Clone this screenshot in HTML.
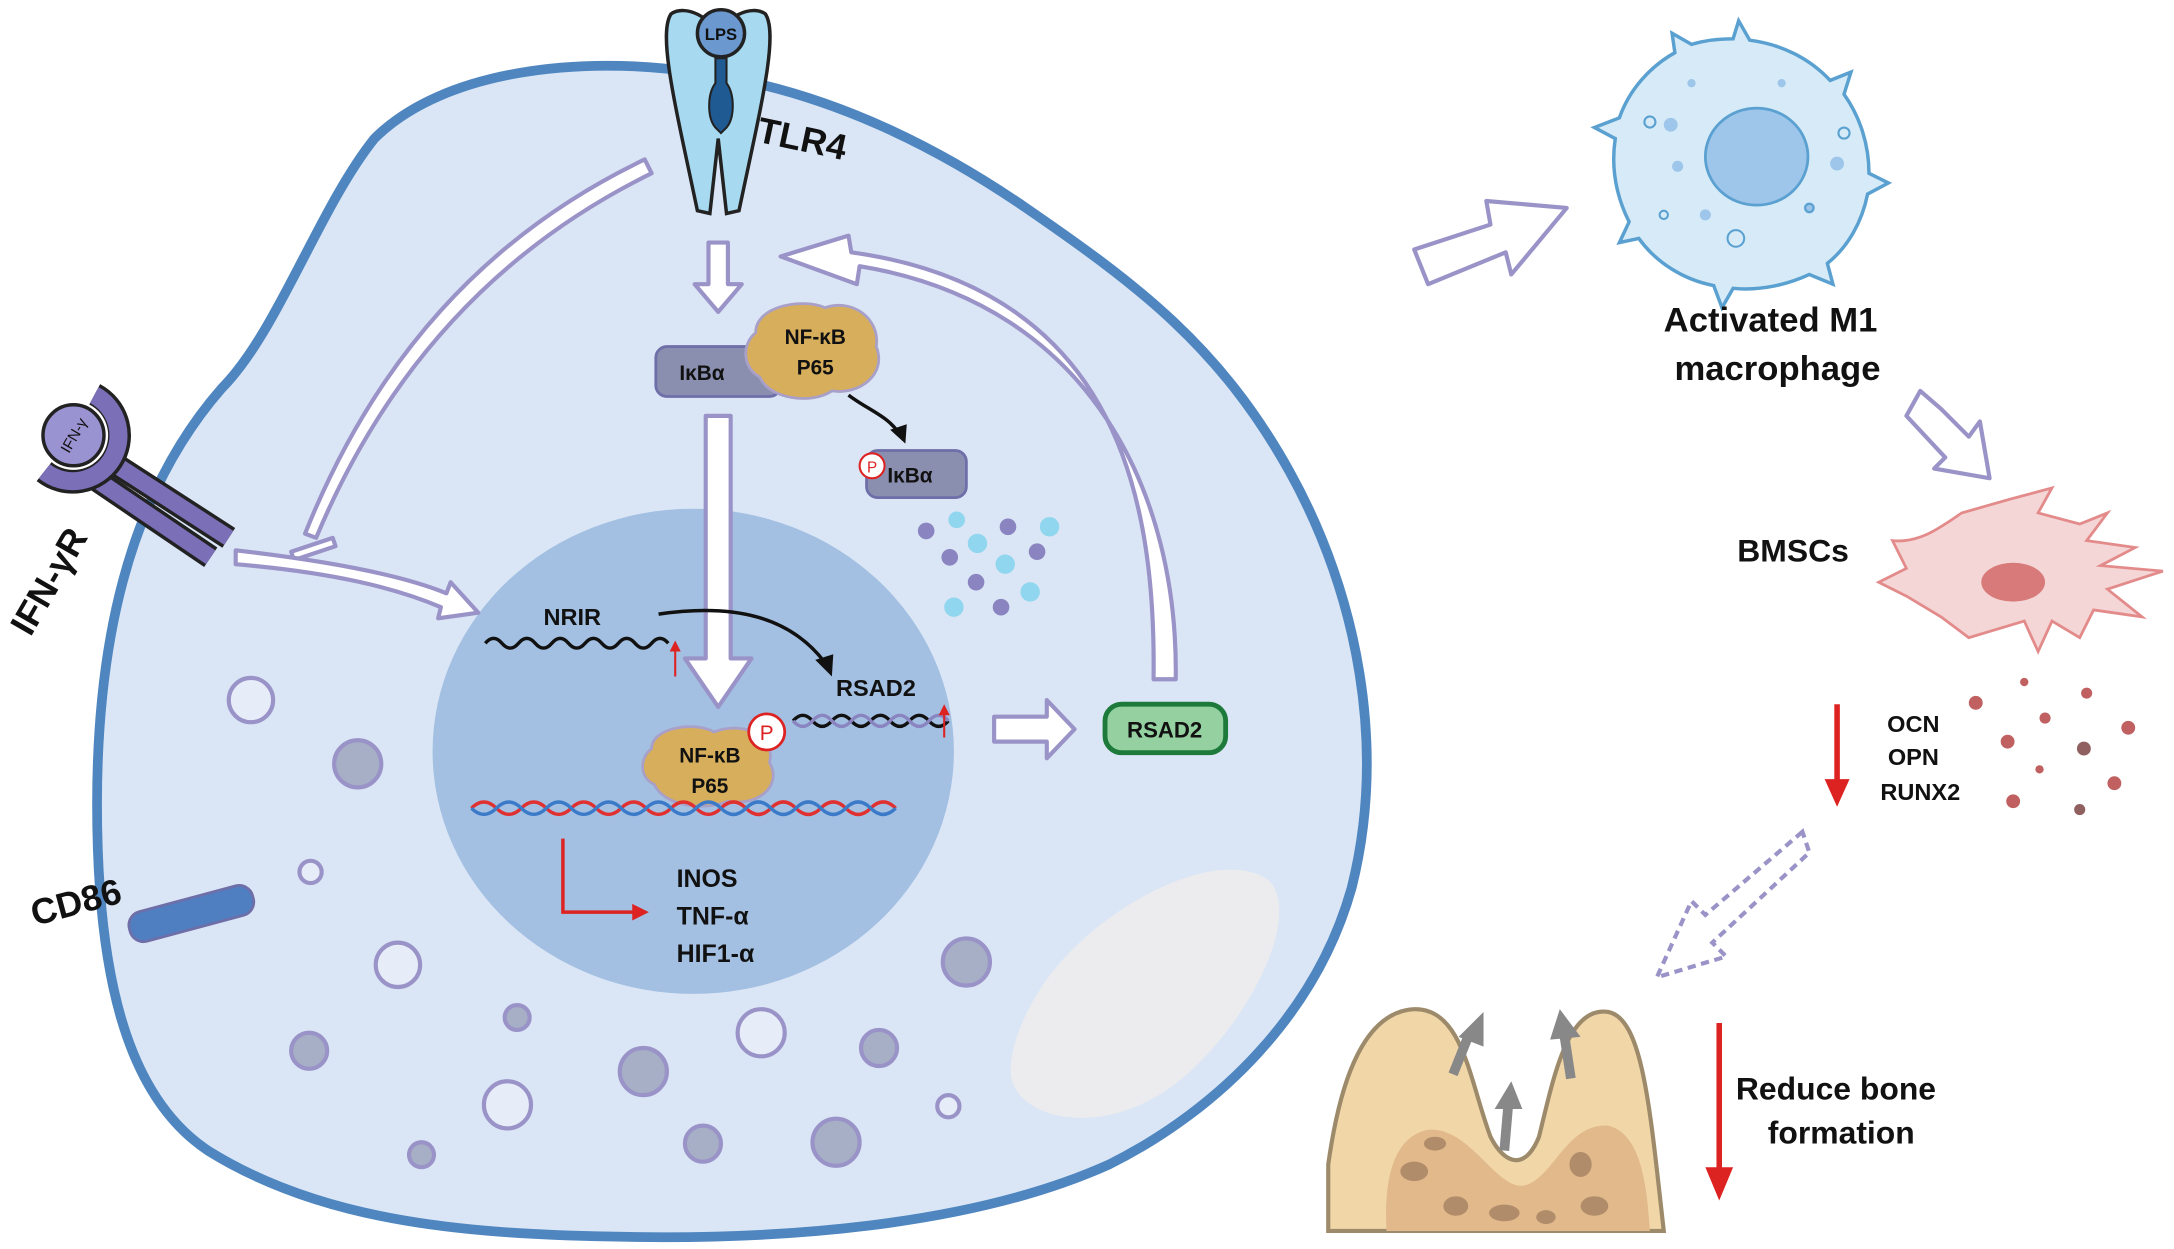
<!DOCTYPE html>
<html><head><meta charset="utf-8"><style>
html,body{margin:0;padding:0;background:#fff;}
svg{display:block;}
text{font-family:"Liberation Sans",Arial,sans-serif;font-weight:bold;fill:#111;}
</style></head><body>
<svg width="2174" height="1249" viewBox="0 0 1568 901" preserveAspectRatio="none" xmlns="http://www.w3.org/2000/svg">
<rect width="1568" height="901" fill="#fff"/>
<path d="M270,100 C320,50 420,40 500,52 C580,62 660,95 740,150 C820,205 880,250 930,340 C980,430 1000,540 975,640 C950,730 880,800 800,840 C700,885 560,895 440,892 C330,890 230,880 150,830 C90,790 70,700 70,580 C70,470 90,360 160,280 C200,240 230,150 270,100 Z" fill="#dae6f6" stroke="#4f86c0" stroke-width="7"/>
<path d="M760,700 C800,650 880,610 915,635 C940,660 900,740 850,780 C800,820 740,810 730,780 C725,760 740,725 760,700 Z" fill="#ececee"/>
<ellipse cx="500" cy="542" rx="188" ry="175" fill="#a3c0e2"/>
<g stroke="#9a93c8" stroke-width="3">
<circle cx="181" cy="505" r="16" fill="#e6ecf8"/>
<circle cx="258" cy="551" r="17" fill="#a6afc6"/>
<circle cx="224" cy="629" r="8" fill="#e6ecf8"/>
<circle cx="287" cy="696" r="16" fill="#e6ecf8"/>
<circle cx="223" cy="758" r="13" fill="#a6afc6"/>
<circle cx="373" cy="734" r="9" fill="#a6afc6"/>
<circle cx="366" cy="797" r="17" fill="#e6ecf8"/>
<circle cx="304" cy="833" r="9" fill="#a6afc6"/>
<circle cx="464" cy="773" r="17" fill="#a6afc6"/>
<circle cx="549" cy="745" r="17" fill="#e6ecf8"/>
<circle cx="507" cy="825" r="13" fill="#a6afc6"/>
<circle cx="603" cy="824" r="17" fill="#a6afc6"/>
<circle cx="634" cy="756" r="13" fill="#a6afc6"/>
<circle cx="697" cy="694" r="17" fill="#a6afc6"/>
<circle cx="684" cy="798" r="8" fill="#e6ecf8"/>
</g>
<g stroke="#222" stroke-width="2.5">
<path d="M484,10 C474,25 488,80 503,152 L512,154 L518,100 L524,154 L533,152 C548,80 562,25 552,10 C542,3 522,12 518,28 C514,12 494,3 484,10 Z" fill="#a7daf0"/>
<circle cx="520" cy="24" r="17" fill="#6a98cf"/>
<path d="M516,42 L516,60 C510,68 510,85 516,92 L520,96 L524,92 C530,85 530,68 524,60 L524,42 Z" fill="#1f5b92" stroke-width="1.5"/>
</g>
<text x="520" y="29" font-size="12" text-anchor="middle">LPS</text>
<text x="545" y="102" font-size="26" transform="rotate(12 545 102)">TLR4</text>
<!-- IFN-yR -->
<polyline points="80,333 165,388" fill="none" stroke="#222" stroke-width="17"/>
<polyline points="80,333 165,388" fill="none" stroke="#7b6fb7" stroke-width="12"/>
<polyline points="68,345 152,402" fill="none" stroke="#222" stroke-width="17"/>
<polyline points="68,345 152,402" fill="none" stroke="#7b6fb7" stroke-width="12"/>
<path d="M68,285 A33,33 0 1 1 32,340" fill="none" stroke="#222" stroke-width="18" transform="rotate(0)"/>
<path d="M68,285 A33,33 0 1 1 32,340" fill="none" stroke="#7b6fb7" stroke-width="13"/>
<circle cx="53" cy="314" r="25" fill="#fff"/>
<circle cx="53" cy="314" r="22" fill="#9a93d2" stroke="#222" stroke-width="2.5"/>
<text x="53" y="318" font-size="11" text-anchor="middle" transform="rotate(-60 53 314)" style="font-weight:normal">IFN-γ</text>
<text x="22" y="460" font-size="26" transform="rotate(-60 22 460)">IFN-γR</text>
<rect x="92" y="648" width="92" height="22" rx="10" fill="#4f7fc0" stroke="#6e6ea8" stroke-width="2" transform="rotate(-15 138 659)"/>
<text x="25" y="668" font-size="26" transform="rotate(-15 25 668)">CD86</text>
<g fill="#fff" stroke="#9a93c8" stroke-width="3" stroke-linejoin="round">
<path d="M465,115 C350,170 270,260 220,385 L228,388 C278,268 358,180 470,125 Z"/>
<path d="M210,398 L240,388 L242,394 L212,404 Z"/>
<path d="M170,397 C240,405 290,415 322,428 L325,420 L345,442 L316,446 L318,438 C285,424 240,413 170,407 Z"/>
<path d="M511,175 L525,175 L525,205 L535,205 L518,225 L501,205 L511,205 Z"/>
<path d="M509,300 L527,300 L527,475 L542,475 L518,510 L494,475 L509,475 Z"/>
<path d="M832,490 L848,490 C850,360 790,220 620,192 L618,205 L563,185 L612,170 L614,182 C800,208 834,350 832,490 Z"/>
<path d="M717,517 L755,517 L755,505 L775,526 L755,547 L755,535 L717,535 Z"/>
<path d="M1020,180 L1075,162 L1072,145 L1130,150 L1090,198 L1086,182 L1030,205 Z"/>
<path d="M1385,282 L1400,295 L1420,315 L1428,304 L1435,345 L1395,338 L1403,330 L1375,300 Z"/>
</g>
<path d="M1300,600 L1230,660 L1220,650 L1195,705 L1245,690 L1235,680 L1305,615 Z" fill="#fff" stroke="#9a93c8" stroke-width="3" stroke-dasharray="6 4"/>
<rect x="473" y="250" width="90" height="36" rx="8" fill="#8a8fb0" stroke="#6e6ea8" stroke-width="2"/>
<text x="490" y="274" font-size="15">IκBα</text>
<path d="M545,240 C545,220 580,215 595,222 C615,215 635,230 632,250 C640,270 620,285 600,282 C585,292 555,288 548,272 C535,265 535,248 545,240 Z" fill="#d6ae5c" stroke="#a8a0c8" stroke-width="2"/>
<text x="588" y="248" font-size="15" text-anchor="middle">NF-κB</text>
<text x="588" y="270" font-size="15" text-anchor="middle">P65</text>
<path d="M612,285 C625,295 640,300 648,312" fill="none" stroke="#111" stroke-width="2.5"/>
<path d="M653,320 L642,310 L654,306 Z" fill="#111"/>
<rect x="625" y="325" width="72" height="34" rx="8" fill="#8a8fb0" stroke="#6e6ea8" stroke-width="2"/>
<text x="640" y="348" font-size="15">IκBα</text>
<circle cx="629" cy="336" r="9" fill="#fff" stroke="#d22" stroke-width="1.5"/>
<text x="629" y="341" font-size="11" text-anchor="middle" style="fill:#d22;font-weight:normal">P</text>
<g>
<circle cx="668" cy="383" r="6" fill="#8a85c0"/><circle cx="690" cy="375" r="6" fill="#8fd6ee"/>
<circle cx="727" cy="380" r="6" fill="#8a85c0"/><circle cx="757" cy="380" r="7" fill="#8fd6ee"/>
<circle cx="705" cy="392" r="7" fill="#8fd6ee"/><circle cx="685" cy="402" r="6" fill="#8a85c0"/>
<circle cx="748" cy="398" r="6" fill="#8a85c0"/><circle cx="725" cy="407" r="7" fill="#8fd6ee"/>
<circle cx="704" cy="420" r="6" fill="#8a85c0"/><circle cx="743" cy="427" r="7" fill="#8fd6ee"/>
<circle cx="688" cy="438" r="7" fill="#8fd6ee"/><circle cx="722" cy="438" r="6" fill="#8a85c0"/>
</g>
<text x="392" y="451" font-size="17">NRIR</text>
<path d="M350,464 q6,-7 12,0 t12,0 t12,0 t12,0 t12,0 t12,0 t12,0 t12,0 t12,0 t12,0 t12,0" fill="none" stroke="#111" stroke-width="2.5"/>
<path d="M487,488 L487,466" stroke="#d22" stroke-width="1.5"/><path d="M483,470 L487,462 L491,470Z" fill="#d22"/>
<path d="M475,443 C530,435 570,445 595,478" fill="none" stroke="#111" stroke-width="2.5"/>
<path d="M600,488 L588,476 L601,472 Z" fill="#111"/>
<text x="603" y="502" font-size="17">RSAD2</text>
<path d="M572,520 q7,-8 14,0 t14,0 t14,0 t14,0 t14,0 t14,0 t14,0 t14,0" fill="none" stroke="#111" stroke-width="2.5"/>
<path d="M572,520 q7,8 14,0 t14,0 t14,0 t14,0 t14,0 t14,0 t14,0 t14,0" fill="none" stroke="#8a85c0" stroke-width="2.5"/>
<path d="M681,532 L681,512" stroke="#d22" stroke-width="1.5"/><path d="M677,516 L681,508 L685,516Z" fill="#d22"/>
<path d="M470,540 C470,525 500,520 515,528 C535,520 560,530 555,550 C565,568 545,582 525,578 C505,586 478,580 472,566 C460,560 462,546 470,540 Z" fill="#d6ae5c" stroke="#a8a0c8" stroke-width="2"/>
<text x="512" y="550" font-size="15" text-anchor="middle">NF-κB</text>
<text x="512" y="572" font-size="15" text-anchor="middle">P65</text>
<circle cx="553" cy="528" r="13" fill="#fff" stroke="#d22" stroke-width="2"/>
<text x="553" y="534" font-size="15" text-anchor="middle" style="fill:#d22;font-weight:normal">P</text>
<path d="M340,583 q9,-9 18,0 t18,0 t18,0 t18,0 t18,0 t18,0 t18,0 t18,0 t18,0 t18,0 t18,0 t18,0 t18,0 t18,0 t18,0 t18,0 t18,0" fill="none" stroke="#e03030" stroke-width="2.5"/>
<path d="M340,583 q9,9 18,0 t18,0 t18,0 t18,0 t18,0 t18,0 t18,0 t18,0 t18,0 t18,0 t18,0 t18,0 t18,0 t18,0 t18,0 t18,0 t18,0" fill="none" stroke="#3a7ac8" stroke-width="2.5"/>
<path d="M406,605 L406,658 L458,658" fill="none" stroke="#d22" stroke-width="2.5"/><path d="M456,652 L468,658 L456,664Z" fill="#d22"/>
<text x="488" y="640" font-size="18">INOS</text>
<text x="488" y="667" font-size="18">TNF-α</text>
<text x="488" y="694" font-size="18">HIF1-α</text>
<rect x="797" y="508" width="87" height="35" rx="12" fill="#94d0a0" stroke="#1d7a3a" stroke-width="3.5"/>
<text x="840" y="532" font-size="16" text-anchor="middle">RSAD2</text>
<g stroke="#5aa0d0" stroke-width="2.5" fill="#d6ebf7">
<path d="M1250,28 L1254,15 L1262,29 C1285,32 1305,42 1320,58 L1335,52 L1330,68 C1342,85 1348,105 1348,125 L1362,132 L1347,140 C1343,160 1333,178 1318,190 L1322,205 L1305,198 C1290,205 1270,210 1250,208 L1242,222 L1236,206 C1215,202 1195,190 1182,172 L1168,175 L1175,160 C1165,140 1162,120 1165,100 L1150,92 L1168,85 C1175,65 1190,48 1208,38 L1206,24 L1220,32 C1230,29 1240,28 1250,28 Z"/>
</g>
<ellipse cx="1267" cy="113" rx="37" ry="35" fill="#9ec5ea" stroke="#5aa0d0" stroke-width="2"/>
<g fill="#9ec5ea"><circle cx="1205" cy="90" r="5"/><circle cx="1210" cy="120" r="4"/><circle cx="1325" cy="118" r="5"/><circle cx="1305" cy="150" r="4"/><circle cx="1230" cy="155" r="4"/><circle cx="1285" cy="60" r="3"/><circle cx="1220" cy="60" r="3"/></g>
<g fill="none" stroke="#5aa0d0" stroke-width="1.5"><circle cx="1252" cy="172" r="6"/><circle cx="1190" cy="88" r="4"/><circle cx="1330" cy="96" r="4"/><circle cx="1305" cy="150" r="3"/><circle cx="1200" cy="155" r="3"/></g>
<text x="1277" y="239" font-size="25" text-anchor="middle">Activated M1</text>
<text x="1282" y="274" font-size="25" text-anchor="middle">macrophage</text>
<text x="1253" y="405" font-size="23">BMSCs</text>
<path d="M1365,390 C1385,392 1400,380 1415,370 L1450,360 L1480,352 L1470,370 L1500,378 L1520,370 L1505,390 L1540,395 L1515,408 L1560,412 L1520,425 L1545,445 L1510,440 L1500,460 L1480,448 L1470,470 L1460,448 L1420,460 L1400,445 L1375,430 L1355,420 L1375,410 Z" fill="#f5d6d6" stroke="#e38a8a" stroke-width="2"/>
<ellipse cx="1452" cy="420" rx="23" ry="14" fill="#d87a7a"/>
<path d="M1325,508 L1325,568" stroke="#d22" stroke-width="4"/><path d="M1316,562 L1325,582 L1334,562Z" fill="#d22"/>
<text x="1380" y="528" font-size="17" text-anchor="middle">OCN</text>
<text x="1380" y="552" font-size="17" text-anchor="middle">OPN</text>
<text x="1385" y="577" font-size="17" text-anchor="middle">RUNX2</text>
<g fill="#c06060"><circle cx="1425" cy="507" r="5"/><circle cx="1460" cy="492" r="3"/><circle cx="1505" cy="500" r="4"/><circle cx="1475" cy="518" r="4"/><circle cx="1448" cy="535" r="5"/><circle cx="1503" cy="540" r="5" fill="#906060"/><circle cx="1535" cy="525" r="5"/><circle cx="1471" cy="555" r="3"/><circle cx="1525" cy="565" r="5"/><circle cx="1452" cy="578" r="5"/><circle cx="1500" cy="584" r="4" fill="#906060"/></g>
<path d="M958,888 L958,840 C965,790 980,730 1020,728 C1055,727 1060,780 1075,820 C1085,840 1100,845 1110,820 C1120,780 1130,725 1160,730 C1185,735 1190,800 1200,888 Z" fill="#f1d7a8" stroke="#9d8a6a" stroke-width="3"/>
<path d="M1000,888 C998,850 1005,820 1030,815 C1060,812 1080,860 1100,855 C1120,850 1130,810 1160,812 C1185,818 1188,860 1190,888 Z" fill="#e2b98b"/>
<g fill="#b08c6a"><ellipse cx="1020" cy="845" rx="10" ry="7"/><ellipse cx="1050" cy="870" rx="9" ry="7"/><ellipse cx="1085" cy="875" rx="11" ry="6"/><ellipse cx="1140" cy="840" rx="8" ry="9"/><ellipse cx="1150" cy="870" rx="10" ry="7"/><ellipse cx="1115" cy="878" rx="7" ry="5"/><ellipse cx="1035" cy="825" rx="8" ry="5"/></g>
<g stroke="#888" stroke-width="7" fill="none"><path d="M1048,775 L1060,745"/><path d="M1085,830 L1088,795"/><path d="M1133,778 L1128,745"/></g>
<g fill="#888"><path d="M1052,748 L1070,730 L1070,755Z"/><path d="M1078,800 L1090,780 L1098,800Z"/><path d="M1118,750 L1125,728 L1140,748Z"/></g>
<path d="M1240,738 L1240,850" stroke="#d22" stroke-width="4"/><path d="M1230,842 L1240,866 L1250,842Z" fill="#d22"/>
<text x="1252" y="793" font-size="23">Reduce bone</text>
<text x="1275" y="825" font-size="23">formation</text>
</svg>
</body></html>
